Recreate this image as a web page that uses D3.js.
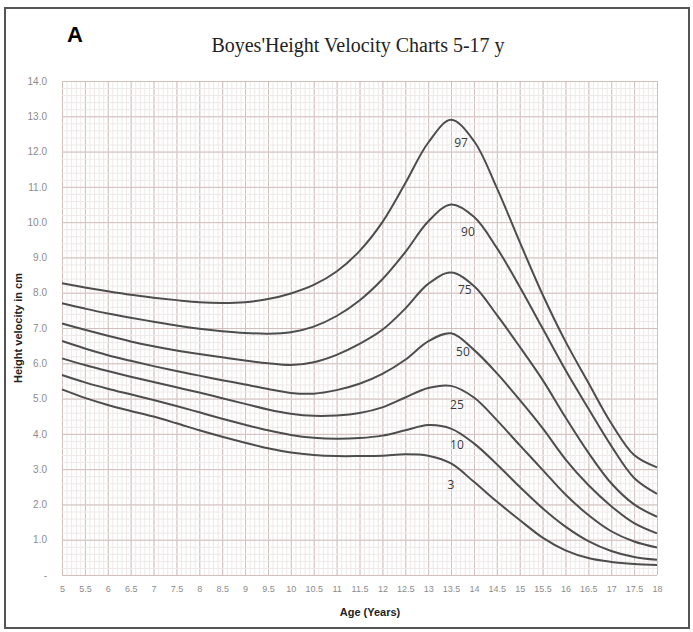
<!DOCTYPE html>
<html>
<head>
<meta charset="utf-8">
<script src="https://cdn.jsdelivr.net/npm/d3@7"></script>
<style>
    body { margin: 0; background: #fff; }
    .grid-lines path, .axis path, .axis line { display: none; }
    .grid-lines--minor line { stroke: #eee8e8; stroke-width: 1; }
    .grid-lines--major line { stroke: #d3bebe; stroke-width: 1; }
    .axis text { fill: #8c8c8c; font-family: 'Liberation Sans', Arial, sans-serif; }
    .curve { fill: none; stroke: #4d4d4d; stroke-width: 2; }
    .curve-label { fill: #3a3a3a; font-family: 'Open Sans', sans-serif; font-size: 12px; text-anchor: middle; }
</style>
</head>
<body>
<div id="chart"></div>
<script>
// ages (x) and tick values
const ages = [5, 5.5, 6, 6.5, 7, 7.5, 8, 8.5, 9, 9.5, 10, 10.5, 11, 11.5, 12, 12.5, 13, 13.5, 14, 14.5, 15, 15.5, 16, 16.5, 17, 17.5, 18];
const yTicks = [0, 1, 2, 3, 4, 5, 6, 7, 8, 9, 10, 11, 12, 13, 14];

// percentile curves, cm/year
const percentiles = ['97', '90', '75', '50', '25', '10', '3'];
const p97 = [8.27, 8.15, 8.04, 7.94, 7.86, 7.79, 7.73, 7.71, 7.73, 7.82, 7.98, 8.22, 8.60, 9.18, 10.00, 11.10, 12.25, 12.90, 12.30, 10.97, 9.44, 7.95, 6.62, 5.45, 4.30, 3.40, 3.05];
const p90 = [7.70, 7.55, 7.41, 7.29, 7.18, 7.07, 6.98, 6.91, 6.86, 6.84, 6.88, 7.04, 7.34, 7.78, 8.38, 9.15, 10.02, 10.50, 10.15, 9.27, 8.17, 6.99, 5.81, 4.72, 3.66, 2.75, 2.30];
const p75 = [7.13, 6.95, 6.78, 6.62, 6.48, 6.36, 6.26, 6.17, 6.08, 6.00, 5.95, 6.03, 6.24, 6.55, 6.95, 7.55, 8.25, 8.57, 8.19, 7.37, 6.47, 5.53, 4.47, 3.47, 2.60, 2.00, 1.65];
const p50 = [6.63, 6.42, 6.23, 6.07, 5.92, 5.78, 5.65, 5.52, 5.40, 5.27, 5.16, 5.14, 5.24, 5.42, 5.70, 6.10, 6.62, 6.85, 6.38, 5.72, 4.96, 4.16, 3.28, 2.55, 1.95, 1.47, 1.18];
const p25 = [6.14, 5.95, 5.78, 5.62, 5.47, 5.32, 5.17, 5.01, 4.85, 4.69, 4.57, 4.51, 4.52, 4.59, 4.75, 5.03, 5.30, 5.36, 5.03, 4.39, 3.68, 2.98, 2.28, 1.70, 1.24, 0.95, 0.78];
const p10 = [5.67, 5.46, 5.28, 5.12, 4.96, 4.79, 4.61, 4.43, 4.26, 4.10, 3.97, 3.89, 3.86, 3.88, 3.95, 4.10, 4.25, 4.15, 3.73, 3.14, 2.50, 1.89, 1.37, 0.96, 0.68, 0.51, 0.43];
const p3 = [5.26, 5.02, 4.82, 4.65, 4.49, 4.30, 4.10, 3.92, 3.75, 3.59, 3.47, 3.40, 3.37, 3.37, 3.38, 3.42, 3.38, 3.16, 2.64, 2.08, 1.56, 1.06, 0.70, 0.48, 0.37, 0.31, 0.28];
const series = [p97, p90, p75, p50, p25, p10, p3];

// where the percentile names sit (age, cm/year)
const labelAges = [13.72, 13.87, 13.8, 13.76, 13.63, 13.63, 13.5];
const labelValues = [12.24, 9.72, 8.08, 6.32, 4.82, 3.68, 2.55];

function getMargins() {
    return { top: 81, bottom: 57, left: 62, right: 36 };
}

function getDimensions() {
    const margins = getMargins();
    const width = 693 - margins.left - margins.right;
    const height = 632 - margins.top - margins.bottom;
    return { margins, width, height };
}

function layout() {
    const dims = getDimensions();

    const svg = d3.select('#chart')
        .append('svg')
        .attr('width', 693)
        .attr('height', 632);

    //frame
    svg.append('rect')
        .attr('x', 5)
        .attr('y', 8)
        .attr('width', 684)
        .attr('height', 620)
        .attr('fill', '#fff')
        .attr('stroke', '#555')
        .attr('stroke-width', 2);

    //panel letter + title
    svg.append('text')
        .attr('x', 67)
        .attr('y', 42)
        .style('font-family', "'Liberation Sans', Arial, sans-serif")
        .style('font-weight', 'bold')
        .style('font-size', '22px')
        .text('A');
    svg.append('text')
        .attr('x', 358)
        .attr('y', 52)
        .attr('text-anchor', 'middle')
        .style('font-family', "'Liberation Serif', 'Times New Roman', serif")
        .style('font-size', '20px')
        .style('fill', '#222')
        .text("Boyes'Height Velocity Charts 5-17 y");

    const chart = svg.append('g')
        .attr('transform', `translate(${dims.margins.left},${dims.margins.top})`);

    return { svg, chart, dims };
}

function addXAxis(ts) {
    const { width, height } = ts.dims;
    const scale = d3.scaleLinear().domain([5, 18]).range([0, width]);

    //minor + major grid
    ts.chart.append('g')
        .classed('grid-lines grid-lines--minor', true)
        .attr('transform', `translate(0,${height})`)
        .call(d3.axisBottom(scale).tickValues(d3.range(50, 181).map(d => d / 10)).tickSize(-height).tickFormat(''));
    ts.chart.append('g')
        .classed('grid-lines grid-lines--major', true)
        .attr('transform', `translate(0,${height})`)
        .call(d3.axisBottom(scale).tickValues(ages).tickSize(-height).tickFormat(''));

    //axis
    const axis = ts.chart.append('g')
        .classed('axis axis--x', true)
        .attr('transform', `translate(0,${height})`)
        .call(d3.axisBottom(scale).tickValues(ages).tickSize(0).tickPadding(11).tickFormat(d3.format('')));
    axis.selectAll('text').style('font-size', '9px');

    //label
    ts.svg.append('text')
        .attr('x', 370)
        .attr('y', 616)
        .attr('text-anchor', 'middle')
        .style('font-family', "'Liberation Sans', Arial, sans-serif")
        .style('font-weight', 'bold')
        .style('font-size', '11px')
        .style('fill', '#222')
        .text('Age (Years)');

    return scale;
}

function addYAxis(ts) {
    const { width, height } = ts.dims;
    const scale = d3.scaleLinear().domain([0, 14]).range([height, 0]);

    //minor + major grid
    ts.chart.append('g')
        .classed('grid-lines grid-lines--minor', true)
        .call(d3.axisLeft(scale).tickValues(d3.range(0, 71).map(d => d / 5)).tickSize(-width).tickFormat(''));
    ts.chart.append('g')
        .classed('grid-lines grid-lines--major', true)
        .call(d3.axisLeft(scale).tickValues(yTicks).tickSize(-width).tickFormat(''));

    //axis
    const axis = ts.chart.append('g')
        .classed('axis axis--y', true)
        .call(d3.axisLeft(scale).tickValues(yTicks).tickSize(0).tickPadding(15)
            .tickFormat(d => d === 0 ? '-' : d.toFixed(1)));
    axis.selectAll('text').style('font-size', '10px');

    //label
    ts.svg.append('text')
        .attr('transform', 'translate(22,328) rotate(-90)')
        .attr('text-anchor', 'middle')
        .style('font-family', "'Liberation Sans', Arial, sans-serif")
        .style('font-weight', 'bold')
        .style('font-size', '11px')
        .style('fill', '#222')
        .text('Height velocity in cm');

    return scale;
}

function drawLines(ts) {
    const line = d3.line()
        .x((d, i) => ts.x(ages[i]))
        .y(d => ts.y(d))
        .curve(d3.curveCatmullRom.alpha(0.5));

    ts.chart.append('g')
        .selectAll('path')
        .data(series)
        .join('path')
        .classed('curve', true)
        .attr('d', line);

    ts.chart.append('g')
        .selectAll('text')
        .data(percentiles)
        .join('text')
        .classed('curve-label', true)
        .attr('x', (d, i) => ts.x(labelAges[i]))
        .attr('y', (d, i) => ts.y(labelValues[i]))
        .attr('dy', '0.35em')
        .text(d => d);
}

const ts = layout();
ts.x = addXAxis(ts);
ts.y = addYAxis(ts);
drawLines(ts);
</script>
</body>
</html>
